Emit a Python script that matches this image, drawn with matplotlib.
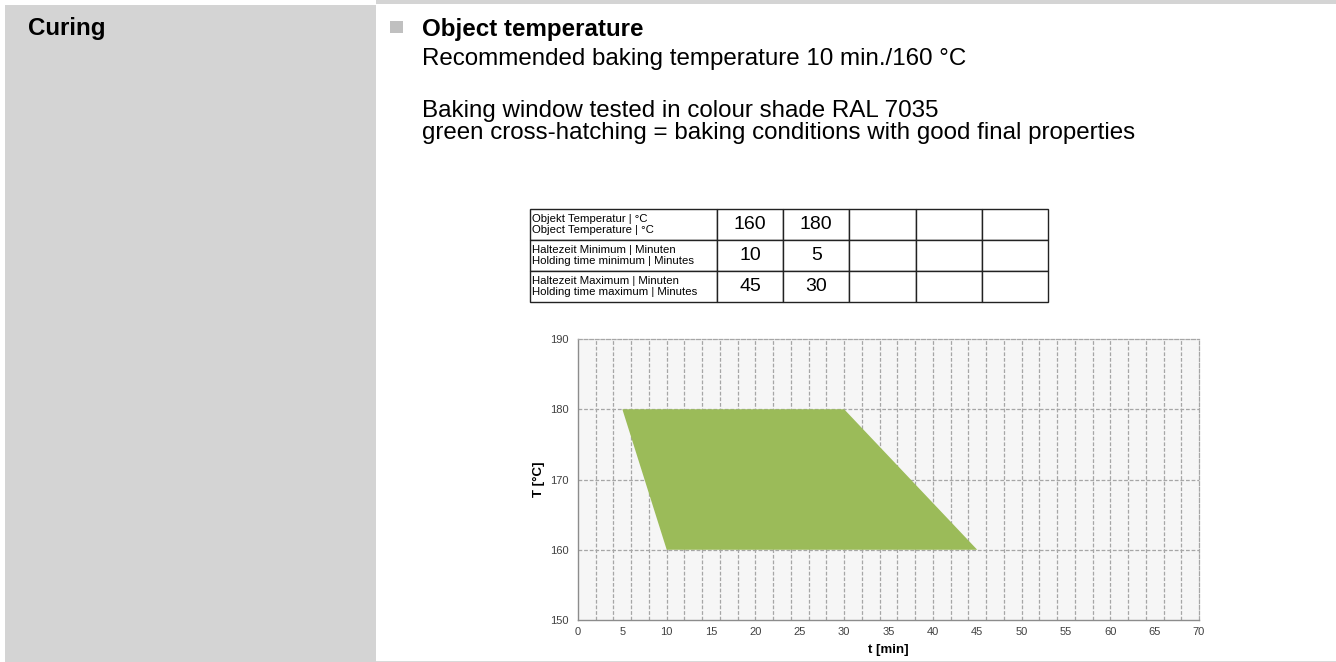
import matplotlib.pyplot as plt
from matplotlib.patches import Rectangle

plt.rcParams['font.family'] = ['Liberation Sans', 'DejaVu Sans']

W, H = 1336, 662

# table data
row_labels = ['Objekt Temperatur | °C\nObject Temperature | °C',
              'Haltezeit Minimum | Minuten\nHolding time minimum | Minutes',
              'Haltezeit Maximum | Minuten\nHolding time maximum | Minutes']
temperatures = [160, 180]
time_min = [10, 5]
time_max = [45, 30]
n_cols = 5

# baking window polygon: (time, temperature)
window_t = [5, 30, 45, 10]
window_T = [180, 180, 160, 160]

x_ticks = list(range(0, 71, 5))
x_grid = list(range(2, 70, 2))
y_ticks = [150, 160, 170, 180, 190]
y_grid = [160, 170, 180]

text_lines = [('Recommended baking temperature 10 min./160 °C', 65),
              ('Baking window tested in colour shade RAL 7035', 117),
              ('green cross-hatching = baking conditions with good final properties', 139)]


def fx(x):
    return x / W


def fy(y):
    return 1 - y / H


def box(x0, y0, x1, y1):
    # pixel box (top-left origin) -> figure rect
    return [fx(x0), fy(y1), fx(x1) - fx(x0), fy(y0) - fy(y1)]


fig = plt.figure(figsize=(W / 100, H / 100), dpi=100)

# background panels
grey = '#d4d4d4'
fig.patches.append(Rectangle((fx(5), 0), fx(376) - fx(5), fy(5), transform=fig.transFigure,
                             facecolor=grey, edgecolor='none'))
fig.patches.append(Rectangle((fx(376), fy(4)), 1 - fx(376), 4 / H, transform=fig.transFigure,
                             facecolor=grey, edgecolor='none'))
fig.patches.append(Rectangle((fx(376), 0), 1 - fx(376), 1.5 / H, transform=fig.transFigure,
                             facecolor='#d9d9d9', edgecolor='none'))
fig.patches.append(Rectangle((fx(390), fy(33)), 13 / W, 12 / H, transform=fig.transFigure,
                             facecolor='#c0c0c0', edgecolor='none'))

fig.text(fx(28), fy(35), 'Curing', fontsize=17.4, fontweight='bold', va='baseline')
fig.text(fx(422), fy(36), 'Object temperature', fontsize=17.4, fontweight='bold', va='baseline')
for line, y in text_lines:
    fig.text(fx(422), fy(y), line, fontsize=17.4, va='baseline')

# table
tax = fig.add_axes(box(530, 209, 1048, 302))
tax.axis('off')
cells = [[row_labels[0]] + [str(v) for v in temperatures] + [''] * (n_cols - len(temperatures)),
         [row_labels[1]] + [str(v) for v in time_min] + [''] * (n_cols - len(time_min)),
         [row_labels[2]] + [str(v) for v in time_max] + [''] * (n_cols - len(time_max))]
first_w = 187
other_w = (1048 - 530 - first_w) / n_cols
tbl = tax.table(cellText=cells, bbox=[0, 0, 1, 1],
                colWidths=[first_w] + [other_w] * n_cols)
tbl.auto_set_font_size(False)
for (r, c), cell in tbl.get_celld().items():
    cell.set_linewidth(1.0)
    cell.set_edgecolor('#222222')
    if c == 0:
        cell.set_text_props(fontsize=8.2, ha='left', linespacing=1.1)
        cell.PAD = 0.01
    else:
        cell.set_text_props(fontsize=14, ha='center', va='center')
        cell.get_text().set_y(cell.get_text().get_position()[1])

# chart
ax = fig.add_axes(box(578, 339, 1199, 620))
ax.set_facecolor('#f6f6f6')
grid_kw = dict(color='#a6a6a6', linestyle=(0, (3, 1.5)), linewidth=0.9, zorder=1)
ax.vlines(x_grid, 150, 190, **grid_kw)
ax.hlines(y_grid, 0, 70, **grid_kw)
ax.fill(window_t, window_T, color='#9bbb59', zorder=2, linewidth=0)
ax.set_xlim(0, 70)
ax.set_ylim(150, 190)
ax.set_xticks(x_ticks)
ax.set_yticks(y_ticks)
for sp in ['top', 'right']:
    ax.spines[sp].set_color('#a6a6a6')
    ax.spines[sp].set_linestyle((0, (3, 1.5)))
    ax.spines[sp].set_linewidth(0.9)
for sp in ['left', 'bottom']:
    ax.spines[sp].set_color('#8c8c8c')
    ax.spines[sp].set_linewidth(1.0)
ax.tick_params(axis='both', labelsize=8, colors='#404040', length=0)
ax.tick_params(axis='x', pad=5)
ax.tick_params(axis='y', pad=7)
ax.set_xlabel('t [min]', fontsize=9.5, fontweight='bold', labelpad=5)
ax.set_ylabel('T [°C]', fontsize=9.5, fontweight='bold', labelpad=3)

fig.savefig('out.png', dpi=100)
